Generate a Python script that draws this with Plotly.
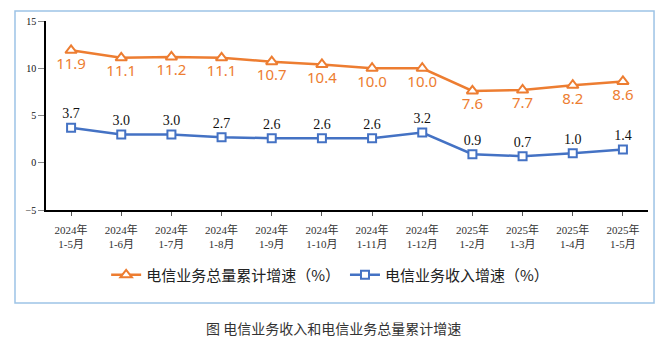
import plotly.graph_objects as go

categories = ["2024年<br>1-5月", "2024年<br>1-6月", "2024年<br>1-7月", "2024年<br>1-8月",
              "2024年<br>1-9月", "2024年<br>1-10月", "2024年<br>1-11月", "2024年<br>1-12月",
              "2025年<br>1-2月", "2025年<br>1-3月", "2025年<br>1-4月", "2025年<br>1-5月"]
total_growth = [11.9, 11.1, 11.2, 11.1, 10.7, 10.4, 10.0, 10.0, 7.6, 7.7, 8.2, 8.6]
revenue_growth = [3.7, 3.0, 3.0, 2.7, 2.6, 2.6, 2.6, 3.2, 0.9, 0.7, 1.0, 1.4]
y_ticks = [-5, 0, 5, 10, 15]

ORANGE = "#ED7D31"
BLUE = "#4472C4"
x = list(range(len(categories)))

fig = go.Figure()
fig.add_trace(go.Scatter(
    x=x, y=total_growth, name="电信业务总量累计增速（%）",
    mode="lines+markers+text",
    line=dict(color=ORANGE, width=2.5),
    marker=dict(symbol="triangle-up", size=10, color="white",
                line=dict(color=ORANGE, width=2)),
    text=[f"{v:.1f}" for v in total_growth], textposition="bottom center",
    textfont=dict(family="Noto Sans, DejaVu Sans", size=15, color=ORANGE),
))
fig.add_trace(go.Scatter(
    x=x, y=revenue_growth, name="电信业务收入增速（%）",
    mode="lines+markers+text",
    line=dict(color=BLUE, width=2.5),
    marker=dict(symbol="square", size=8, color="white",
                line=dict(color=BLUE, width=2)),
    text=[f"{v:.1f}" for v in revenue_growth], textposition="top center",
    textfont=dict(family="Liberation Serif, Noto Sans CJK SC", size=14, color="#111111"),
))

fig.update_layout(
    width=664, height=344,
    margin=dict(l=46, r=16, t=21, b=134),
    paper_bgcolor="white", plot_bgcolor="white",
    showlegend=True,
    legend=dict(orientation="h", x=0.472, xanchor="center", y=-0.344, yanchor="middle",
                font=dict(family="Noto Sans CJK SC", size=15, color="#222222"),
                itemwidth=30, traceorder="normal", bgcolor="rgba(0,0,0,0)"),
    xaxis=dict(
        tickmode="array", tickvals=x, ticktext=categories,
        range=[-0.5, len(categories) - 0.5],
        showline=True, linecolor="black", linewidth=1.5,
        ticks="outside", ticklen=4, tickcolor="#555555",
        showgrid=False, zeroline=False, ticklabelstandoff=5,
        tickfont=dict(family="Liberation Serif, Noto Sans CJK SC", size=11, color="#333333"),
    ),
    yaxis=dict(
        range=[-5, 15], tickmode="array", tickvals=y_ticks,
        showline=True, linecolor="black", linewidth=1.5,
        ticks="outside", ticklen=6, tickcolor="#888888",
        showgrid=False, zeroline=False,
        tickfont=dict(family="Liberation Serif", size=10, color="#111111"),
    ),
    shapes=[dict(type="rect", xref="paper", yref="paper",
                 x0=-0.0515, x1=1.01, y0=-0.492, y1=1.0529,
                 line=dict(color="#9DC3E6", width=1.5), fillcolor="rgba(0,0,0,0)", layer="below")],
    annotations=[dict(text="图 电信业务收入和电信业务总量累计增速", xref="paper", yref="paper",
                      x=0.478, y=-0.624, xanchor="center", yanchor="middle", showarrow=False,
                      font=dict(family="Noto Sans CJK SC", size=14, color="#333333"))],
)

fig.update_xaxes(tickson="boundaries")

fig.write_html("out.html")
